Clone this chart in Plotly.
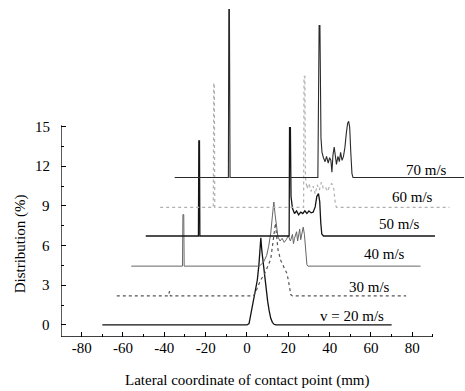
import plotly.graph_objects as go

# ---------------- data ----------------
speeds = ["v = 20 m/s", "30 m/s", "40 m/s", "50 m/s", "60 m/s", "70 m/s"]
offsets = [0.0, 2.2, 4.45, 6.73, 8.9, 11.15]

x20 = [-70, -44, 0, 1, 2, 3, 4, 5, 5.8, 6.3, 6.7, 7.2, 8.3, 9.1, 10, 10.7, 11.5, 12.3, 13.1, 14, 70]
y20 = [0, 0, 0, 0.1, 0.9, 1.9, 2.7, 3.4, 4.6, 6.0, 6.6, 5.6, 4.0, 2.9, 1.8, 1.1, 0.5, 0.2, 0.05, 0, 0]

x30 = [-63, -38, -37.5, -37, 3, 4, 5.5, 7, 8.3, 9.5, 10.5, 11.5, 12.5, 13.3, 13.8, 14.3, 15, 16.3, 17.5,
       18.5, 19.3, 20, 20.6, 21.2, 22, 77]
y30 = [0, 0, 0.35, 0, 0, 0.2, 0.8, 1.3, 1.6, 2.0, 2.4, 2.8, 4.0, 5.2, 5.5, 4.6, 3.5, 2.7, 2.3,
       2.0, 1.7, 1.2, 0.5, 0.1, 0, 0]

x40 = [-56, -31.2, -31, -30.6, -30.4, 6, 8, 9.5, 10.5, 11.5, 12.3, 13, 13.6, 14.3, 15, 16, 17, 18, 19,
       20, 21, 22, 22.5, 23, 24, 24.5, 25, 25.5, 26, 26.5, 27.2, 27.8, 28.4, 29, 29.5, 84]
y40 = [0, 0, 3.9, 3.9, 0, 0, 0.3, 0.8, 1.5, 2.5, 3.8, 4.85, 3.9, 2.8, 2.2, 1.9, 2.1, 1.8, 2.0,
       2.3, 1.9, 2.4, 1.7, 2.1, 2.6, 1.9, 2.3, 2.8, 2.0, 2.5, 2.95, 2.4, 1.0, 0.1, 0, 0]

x50 = [-49, -23.5, -23.3, -23, -22.8, 20.4, 20.6, 21, 21.3, 22, 23, 24, 25, 26, 27, 28, 29, 30, 31, 32,
       33, 33.8, 34.6, 35.2, 35.7, 36.2, 37, 91]
y50 = [0, 0, 7.2, 7.2, 0, 0, 8.2, 8.2, 3.0, 2.1, 1.7, 1.9, 1.6, 1.8, 1.7, 1.9, 1.7, 1.9, 1.75, 1.8,
       2.2, 3.0, 3.2, 2.6, 1.0, 0.15, 0, 0]

x60 = [-42, -16.3, -16.1, -15.8, -15.6, 27.4, 27.6, 28, 28.3, 28.6, 29, 30, 31, 32, 33, 34, 35, 36, 37,
       38, 39, 40, 41, 42, 42.8, 43.3, 98]
y60 = [0, 0, 9.4, 9.4, 0, 0, 9.9, 9.9, 2.2, 2.0, 1.4, 1.8, 1.2, 1.6, 1.0, 1.7, 1.3, 1.9, 1.4,
       1.5, 1.2, 1.6, 1.8, 1.4, 0.2, 0, 0]

x70 = [-35, -9, -8.8, -8.5, -8.2, 34.3, 34.9, 35.3, 35.8, 36.3, 37, 37.8, 38.5, 39.3, 40, 40.6, 41.1,
       41.6, 42.2, 42.7, 43.3, 44, 44.7, 45.3, 46, 46.7, 47.4, 48.1, 48.7, 49.2, 49.7, 50.2, 50.8, 51.3, 105]
y70 = [0, 0, 12.7, 12.7, 0, 0, 11.5, 11.5, 3.0, 1.9, 1.5, 1.2, 1.6, 1.1, 1.5, 1.3, 0.4,
       1.7, 2.3, 1.5, 1.0, 1.6, 1.2, 1.9, 1.3, 1.6, 2.3, 3.4, 4.1, 4.25, 3.8, 2.0, 0.3, 0, 0]

xs = [x20, x30, x40, x50, x60, x70]
ys = [y20, y30, y40, y50, y60, y70]

label_x = [51, 59.2, 66.5, 73.8, 80, 86.7]
label_dy = [0.68, 0.7, 0.9, 0.9, 0.75, 0.6]

xticks = [-80, -60, -40, -20, 0, 20, 40, 60, 80]
xminor = [-90, -70, -50, -30, -10, 10, 30, 50, 70, 90]
yticks = [0, 3, 6, 9, 12, 15]
yminor = [1.5, 4.5, 7.5, 10.5, 13.5]

x_title = "Lateral coordinate of contact point (mm)"
y_title = "Distribution (%)"

# ---------------- styles ----------------
colors = ["#111111", "#555555", "#666666", "#151515", "#b0b0b0", "#2a2a2a"]
dashes = ["solid", "dot", "solid", "solid", "dot", "solid"]
widths = [1.3, 1.2, 1.0, 1.3, 1.2, 1.1]

font = dict(family="Liberation Serif", size=15, color="black")

fig = go.Figure()
for i in range(len(speeds)):
    fig.add_trace(go.Scatter(
        x=xs[i], y=[v + offsets[i] for v in ys[i]], mode="lines",
        line=dict(color=colors[i], width=widths[i], dash=dashes[i]),
        showlegend=False, cliponaxis=False, hoverinfo="skip"))
    fig.add_annotation(x=label_x[i], y=offsets[i] + label_dy[i], text=speeds[i],
                       showarrow=False, xanchor="center", yanchor="middle", font=font)

XMIN, XMAX_AX = -90, 90
YMIN, YMAX_AX = -0.91, 15.1

# y tick labels placed close to the axis
for v in yticks:
    fig.add_annotation(x=XMIN, y=v, text=str(v), showarrow=False, xanchor="right",
                       yanchor="middle", xshift=-9, font=font)
# axis titles
fig.add_annotation(x=0, y=YMIN, text=x_title, showarrow=False, xanchor="center",
                   yanchor="middle", yshift=-43, font=font)
fig.add_annotation(x=XMIN, y=6.1, text=y_title, showarrow=False, xanchor="center",
                   yanchor="middle", xshift=-41, textangle=-90, font=font)

fig.update_layout(
    width=465, height=391,
    margin=dict(l=61, r=0, t=5, b=54),
    paper_bgcolor="white", plot_bgcolor="white",
    font=font,
    xaxis=dict(range=[XMIN, 105.5], tickmode="array", tickvals=xticks,
               ticktext=[str(v) for v in xticks],
               ticks="inside", ticklen=5, tickwidth=1, tickcolor="black",
               minor=dict(tickmode="array", tickvals=xminor, ticks="inside", ticklen=3,
                          tickcolor="black", tickwidth=1),
               showgrid=False, zeroline=False, showline=False, tickfont=font),
    yaxis=dict(range=[YMIN, 24.2], tickmode="array", tickvals=yticks,
               showticklabels=False,
               ticks="inside", ticklen=5, tickwidth=1, tickcolor="black",
               minor=dict(tickmode="array", tickvals=yminor, ticks="inside", ticklen=3,
                          tickcolor="black", tickwidth=1),
               showgrid=False, zeroline=False, showline=False),
)
# L-shaped axis frame
fig.add_shape(type="line", xref="x", yref="y", x0=XMIN, x1=XMAX_AX, y0=YMIN, y1=YMIN,
              line=dict(color="black", width=1.3))
fig.add_shape(type="line", xref="x", yref="y", x0=XMIN, x1=XMIN, y0=YMIN, y1=YMAX_AX,
              line=dict(color="black", width=1.3))

fig.write_html("out.html")
